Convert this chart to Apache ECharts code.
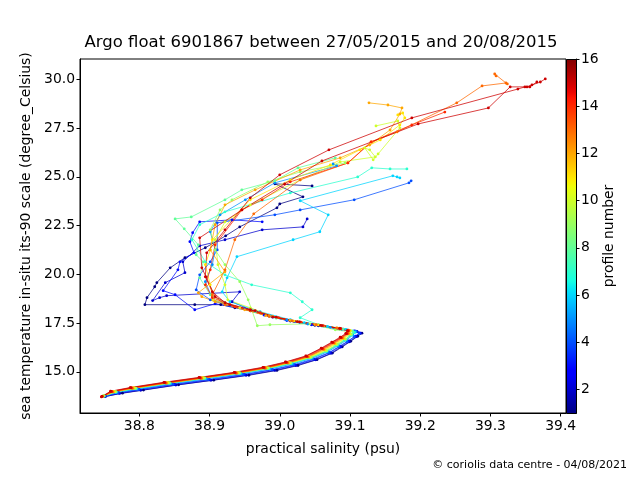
<!DOCTYPE html>
<html><head><meta charset="utf-8">
<script src="https://cdn.jsdelivr.net/npm/echarts@6/dist/echarts.min.js"></script>
<style>html,body{margin:0;padding:0;background:#fff}#c{width:640px;height:480px}</style>
</head><body><div id="c"></div>
<script>
const titleText = 'Argo float 6901867 between 27/05/2015 and 20/08/2015';
const xName = 'practical salinity (psu)';
const yName = 'sea temperature in-situ its-90 scale (degree_Celsius)';
const cbName = 'profile number';
const credit = '\u00a9 coriolis data centre - 04/08/2021';
const xTicks = [38.8, 38.9, 39.0, 39.1, 39.2, 39.3, 39.4];
const yTicks = [15, 17.5, 20, 22.5, 25, 27.5, 30];
const cbTicks = [2, 4, 6, 8, 10, 12, 14, 16];
const profileNumbers = [1,2,3,4,5,6,7,8,9,10,11,12,13,14,15,15];

const profile1 = [[39.046,24.53],[38.993,24.64],[39.033,23.97],[39.000,23.61],[38.996,23.41],[38.943,22.43],[38.923,21.97],[38.894,21.36],[38.865,20.85],[38.844,20.33],[38.825,19.57],[38.822,19.36],[38.811,18.80],[38.808,18.44],[38.879,18.44],[38.916,18.44],[38.936,18.28],[38.958,18.13],[38.985,17.85],[39.015,17.60],[39.050,17.38],[39.085,17.20],[39.108,17.08],[39.117,16.98],[39.111,16.82],[39.101,16.56],[39.089,16.28],[39.075,15.96],[39.053,15.62],[39.026,15.32],[38.996,15.07],[38.956,14.82],[38.906,14.57],[38.856,14.33],[38.806,14.06],[38.776,13.90],[38.750,13.72]];
const profile2 = [[39.039,22.84],[39.033,22.43],[38.975,22.28],[38.922,21.77],[38.886,21.46],[38.862,20.64],[38.865,20.08],[38.837,19.57],[38.819,18.65],[38.829,18.80],[38.839,18.90],[38.943,19.10],[38.932,18.59],[38.958,18.18],[38.990,17.80],[39.020,17.58],[39.055,17.36],[39.088,17.19],[39.110,17.07],[39.115,16.97],[39.109,16.80],[39.099,16.54],[39.087,16.27],[39.073,15.95],[39.051,15.61],[39.023,15.32],[38.993,15.07],[38.952,14.82],[38.902,14.56],[38.852,14.32],[38.802,14.05],[38.772,13.89],[38.752,13.73]];
const profile3 = [[38.975,22.69],[38.932,22.79],[38.886,22.69],[38.876,22.13],[38.872,21.67],[38.878,21.10],[38.858,20.64],[38.855,20.23],[38.834,19.16],[38.851,18.95],[38.879,18.18],[38.908,18.49],[38.950,18.23],[38.978,17.90],[39.010,17.63],[39.045,17.41],[39.082,17.22],[39.106,17.09],[39.114,16.99],[39.108,16.83],[39.098,16.58],[39.086,16.30],[39.071,15.98],[39.049,15.64],[39.022,15.35],[38.990,15.10],[38.950,14.85],[38.900,14.59],[38.850,14.35],[38.800,14.08],[38.771,13.91],[38.749,13.74]];
const profile4 = [[39.187,24.79],[39.184,24.69],[39.106,23.82],[39.029,23.30],[38.993,23.05],[38.911,22.64],[38.911,21.25],[38.901,20.64],[38.886,19.97],[38.881,19.20],[38.901,18.69],[38.929,18.38],[38.965,18.08],[38.995,17.78],[39.028,17.54],[39.060,17.35],[39.090,17.19],[39.109,17.07],[39.113,16.96],[39.106,16.80],[39.096,16.55],[39.084,16.29],[39.070,15.98],[39.047,15.65],[39.020,15.36],[38.989,15.11],[38.948,14.86],[38.898,14.60],[38.848,14.36],[38.799,14.09],[38.770,13.93],[38.751,13.74]];
const profile5 = [[39.076,25.66],[39.081,25.56],[38.993,24.69],[38.951,23.82],[38.915,23.05],[38.901,22.18],[38.908,21.25],[38.904,20.49],[38.894,19.62],[38.905,18.69],[38.943,18.28],[38.986,17.87],[39.010,17.66],[39.040,17.45],[39.072,17.28],[39.096,17.15],[39.108,17.04],[39.104,16.88],[39.095,16.62],[39.083,16.34],[39.068,16.02],[39.046,15.69],[39.018,15.40],[38.986,15.14],[38.945,14.89],[38.895,14.63],[38.845,14.38],[38.797,14.11],[38.768,13.94],[38.750,13.75]];
const profile6 = [[39.171,24.94],[39.167,24.99],[39.161,25.05],[39.029,23.77],[39.069,23.05],[39.057,22.18],[39.019,21.77],[38.939,20.90],[38.925,19.82],[38.918,19.10],[38.929,18.59],[38.972,18.08],[39.015,17.67],[39.035,17.52],[39.068,17.32],[39.094,17.17],[39.107,17.05],[39.103,16.89],[39.094,16.64],[39.082,16.36],[39.067,16.04],[39.045,15.71],[39.017,15.42],[38.985,15.16],[38.944,14.91],[38.894,14.65],[38.844,14.40],[38.796,14.13],[38.767,13.95],[38.749,13.75]];
const profile7 = [[39.181,25.40],[39.157,25.40],[39.131,25.46],[39.111,24.99],[39.015,24.17],[38.922,23.20],[38.886,22.54],[38.875,21.77],[38.894,20.64],[38.922,19.97],[38.960,19.46],[39.015,19.05],[39.032,18.59],[39.046,18.18],[39.029,17.77],[39.055,17.42],[39.085,17.24],[39.103,17.10],[39.106,17.00],[39.100,16.85],[39.092,16.62],[39.080,16.35],[39.066,16.05],[39.044,15.72],[39.016,15.43],[38.984,15.17],[38.943,14.92],[38.893,14.66],[38.843,14.41],[38.795,14.14],[38.766,13.96],[38.748,13.75]];
const profile8 = [[39.079,25.97],[39.026,25.46],[38.993,24.79],[38.946,24.33],[38.922,23.82],[38.874,22.94],[38.851,22.84],[38.864,22.33],[38.884,21.51],[38.881,21.00],[38.891,20.64],[38.886,19.82],[38.901,18.95],[38.922,18.54],[38.965,18.08],[38.995,17.75],[39.030,17.52],[39.062,17.34],[39.090,17.19],[39.104,17.07],[39.102,16.90],[39.093,16.65],[39.081,16.38],[39.066,16.06],[39.044,15.73],[39.015,15.44],[38.983,15.18],[38.942,14.93],[38.892,14.67],[38.842,14.42],[38.794,14.15],[38.766,13.97],[38.749,13.76]];
const profile9 = [[39.093,25.71],[39.029,25.25],[38.983,24.74],[38.932,23.82],[38.915,23.30],[38.901,22.28],[38.908,21.25],[38.922,20.49],[38.943,19.62],[38.955,18.69],[38.968,17.36],[38.986,17.41],[39.043,17.46],[39.079,17.15],[39.100,17.05],[39.102,16.92],[39.094,16.67],[39.082,16.40],[39.067,16.08],[39.045,15.75],[39.016,15.46],[38.984,15.20],[38.943,14.95],[38.893,14.69],[38.843,14.44],[38.795,14.16],[38.767,13.98],[38.750,13.76]];
const profile10 = [[39.137,27.61],[39.168,27.86],[39.171,27.51],[39.140,26.17],[39.133,25.87],[39.121,26.48],[39.128,26.38],[39.136,26.02],[39.086,25.76],[39.029,24.84],[38.958,23.56],[38.922,22.69],[38.908,21.77],[38.912,20.49],[38.922,19.46],[38.926,18.69],[38.958,18.28],[38.990,17.84],[39.025,17.58],[39.058,17.38],[39.086,17.22],[39.101,17.10],[39.100,16.93],[39.092,16.69],[39.080,16.42],[39.065,16.10],[39.043,15.75],[39.014,15.45],[38.982,15.19],[38.941,14.94],[38.891,14.68],[38.841,14.43],[38.793,14.16],[38.765,13.98],[38.749,13.76]];
const profile11 = [[39.168,28.17],[39.175,28.27],[39.178,28.02],[39.171,27.66],[39.143,26.89],[39.114,26.38],[39.072,25.61],[39.015,24.84],[38.958,23.82],[38.904,21.77],[38.901,21.25],[38.894,20.49],[38.901,19.46],[38.905,18.69],[38.943,18.28],[38.985,17.86],[39.020,17.60],[39.055,17.40],[39.084,17.23],[39.100,17.11],[39.099,16.95],[39.091,16.71],[39.079,16.44],[39.064,16.12],[39.042,15.77],[39.013,15.47],[38.981,15.21],[38.940,14.96],[38.890,14.70],[38.840,14.45],[38.792,14.18],[38.764,13.99],[38.748,13.75]];
const profile12 = [[39.127,28.79],[39.154,28.68],[39.174,28.53],[39.171,28.22],[39.157,27.40],[39.128,26.63],[39.086,25.97],[39.029,25.35],[38.965,24.33],[38.922,23.56],[38.908,22.54],[38.901,21.25],[38.922,20.13],[38.884,19.05],[38.889,18.85],[38.908,18.59],[38.950,18.18],[38.980,17.88],[39.015,17.63],[39.050,17.42],[39.082,17.24],[39.099,17.12],[39.098,16.96],[39.090,16.72],[39.078,16.46],[39.063,16.14],[39.041,15.76],[39.012,15.45],[38.980,15.18],[38.939,14.92],[38.889,14.66],[38.839,14.41],[38.791,14.15],[38.763,13.96],[38.748,13.74]];
const profile13 = [[39.306,30.27],[39.308,30.17],[39.322,29.81],[39.324,29.76],[39.288,29.66],[39.252,28.79],[39.167,27.30],[39.131,26.79],[39.097,25.71],[39.029,24.84],[38.963,23.10],[38.936,21.77],[38.922,20.23],[38.904,18.95],[38.922,18.44],[38.958,18.13],[38.985,17.84],[39.018,17.61],[39.052,17.41],[39.081,17.25],[39.098,17.13],[39.097,16.97],[39.089,16.74],[39.077,16.48],[39.062,16.16],[39.040,15.77],[39.011,15.46],[38.979,15.19],[38.938,14.93],[38.888,14.67],[38.838,14.42],[38.790,14.16],[38.762,13.97],[38.747,13.74]];
const profile14 = [[39.235,28.32],[39.188,27.66],[39.130,26.79],[39.097,25.71],[39.015,24.74],[38.975,23.82],[38.946,23.30],[38.908,21.51],[38.901,20.23],[38.894,19.46],[38.904,18.80],[38.936,18.33],[38.972,18.03],[38.998,17.78],[39.030,17.55],[39.062,17.36],[39.087,17.21],[39.098,17.09],[39.096,16.95],[39.088,16.74],[39.076,16.49],[39.061,16.18],[39.039,15.78],[39.010,15.47],[38.978,15.20],[38.937,14.94],[38.887,14.68],[38.837,14.43],[38.789,14.17],[38.761,13.98],[38.747,13.73]];
const profile15 = [[39.366,29.86],[39.356,29.61],[39.349,29.61],[39.339,29.50],[39.188,28.02],[39.070,26.38],[39.000,25.10],[38.958,23.92],[38.922,22.28],[38.896,21.10],[38.894,19.87],[38.904,19.10],[38.922,18.54],[38.958,18.18],[38.990,17.81],[39.025,17.57],[39.058,17.38],[39.085,17.22],[39.097,17.10],[39.095,16.96],[39.087,16.76],[39.075,16.51],[39.060,16.20],[39.038,15.80],[39.009,15.49],[38.977,15.22],[38.936,14.96],[38.886,14.70],[38.836,14.45],[38.788,14.18],[38.760,13.99],[38.747,13.74]];
const profile16 = [[39.378,30.02],[39.371,29.86],[39.359,29.71],[39.352,29.61],[39.328,29.61],[39.297,28.53],[39.197,27.71],[39.060,25.81],[39.007,24.64],[38.946,23.30],[38.886,21.87],[38.889,20.33],[38.895,19.87],[38.908,18.85],[38.929,18.44],[38.965,18.13],[38.995,17.80],[39.028,17.56],[39.060,17.37],[39.086,17.22],[39.096,17.11],[39.094,16.97],[39.086,16.77],[39.074,16.52],[39.059,16.21],[39.037,15.81],[39.008,15.50],[38.976,15.23],[38.935,14.97],[38.885,14.71],[38.835,14.46],[38.787,14.19],[38.759,14.00],[38.746,13.71]];

const profiles = [profile1,profile2,profile3,profile4,profile5,profile6,profile7,profile8,profile9,profile10,profile11,profile12,profile13,profile14,profile15,profile16];

function interp(t, pts){
  for (let i=1;i<pts.length;i++){
    if (t <= pts[i][0]) {
      const a = pts[i-1], b = pts[i];
      const f = (t - a[0]) / (b[0] - a[0] || 1);
      return a[1] + f * (b[1] - a[1]);
    }
  }
  return pts[pts.length-1][1];
}
function jet(t){
  t = Math.max(0, Math.min(1, t));
  const r = interp(t, [[0,0],[0.35,0],[0.66,1],[0.89,1],[1,0.5]]);
  const g = interp(t, [[0,0],[0.125,0],[0.375,1],[0.64,1],[0.91,0],[1,0]]);
  const b = interp(t, [[0,0.5],[0.11,1],[0.34,1],[0.65,0],[1,0]]);
  return 'rgb(' + Math.round(r*255) + ',' + Math.round(g*255) + ',' + Math.round(b*255) + ')';
}
const cMin = 1, cMax = 16;
const colorOf = p => jet((p - cMin) / (cMax - cMin));

const stops = [];
for (let i = 0; i <= 64; i++) stops.push({offset: i/64, color: jet(i/64)});

const FONT = 'DejaVu Sans';
const chart = echarts.init(document.getElementById('c'), null, {renderer: 'canvas'});

const series = profiles.map((d, i) => ({
  type: 'line',
  name: 'profile ' + (i + 1),
  xAxisIndex: 0, yAxisIndex: 0,
  data: d,
  symbol: 'circle',
  symbolSize: 2.8,
  showSymbol: true,
  showAllSymbol: true,
  lineStyle: {width: 0.75, color: colorOf(profileNumbers[i])},
  itemStyle: {color: colorOf(profileNumbers[i]), borderWidth: 0},
  emphasis: {disabled: true},
  silent: true,
  animation: false
}));

const option = {
  animation: false,
  backgroundColor: '#fff',
  title: {
    text: titleText, left: 321, top: 34, textAlign: 'center', padding: 0,
    textStyle: {fontFamily: FONT, fontSize: 16.5, fontWeight: 'normal', color: '#000'}
  },
  grid: [
    {left: 80, top: 59, width: 486, height: 354, show: true, borderColor: '#000', borderWidth: 1, backgroundColor: 'rgba(0,0,0,0)'},
    {left: 566, top: 59, width: 10, height: 354, show: false}
  ],
  xAxis: [
    {type: 'value', gridIndex: 0, min: 38.7156, max: 39.4075,
     name: xName, nameLocation: 'middle', nameGap: 29,
     nameTextStyle: {fontFamily: FONT, fontSize: 13.9, color: '#000'},
     axisLine: {show: true, onZero: false, lineStyle: {color: '#000', width: 1}},
     axisTick: {show: true, length: 3.5, customValues: xTicks, lineStyle: {color: '#000', width: 1}},
     axisLabel: {customValues: xTicks, formatter: v => Number(v).toFixed(1), fontFamily: FONT, fontSize: 13.9, color: '#000', margin: 6},
     splitLine: {show: false}},
    {type: 'value', gridIndex: 1, min: 0, max: 1, show: false}
  ],
  yAxis: [
    {type: 'value', gridIndex: 0, min: 12.885, max: 31.04,
     name: yName, nameLocation: 'middle', nameGap: 45, nameRotate: 90,
     nameTextStyle: {fontFamily: FONT, fontSize: 13.9, color: '#000'},
     axisLine: {show: true, onZero: false, lineStyle: {color: '#000', width: 1}},
     axisTick: {show: true, length: 3.5, customValues: yTicks, lineStyle: {color: '#000', width: 1}},
     axisLabel: {customValues: yTicks, formatter: v => Number(v).toFixed(1), fontFamily: FONT, fontSize: 13.9, color: '#000', margin: 5},
     splitLine: {show: false}},
    {type: 'value', gridIndex: 1, min: cMin, max: cMax, position: 'right',
     name: cbName, nameLocation: 'middle', nameGap: 25, nameRotate: 90,
     nameTextStyle: {fontFamily: FONT, fontSize: 13.9, color: '#000'},
     axisLine: {show: true, onZero: false, lineStyle: {color: '#000', width: 1}},
     axisTick: {show: true, length: 3.5, customValues: cbTicks, lineStyle: {color: '#000', width: 1}},
     axisLabel: {customValues: cbTicks, formatter: v => String(v), fontFamily: FONT, fontSize: 13.9, color: '#000', margin: 5},
     splitLine: {show: false}}
  ],
  graphic: [
    {type: 'rect', left: 566, top: 59, shape: {x: 0, y: 0, width: 10, height: 354}, z: 50,
     style: {fill: {type: 'linear', x: 0, y: 1, x2: 0, y2: 0, colorStops: stops}, stroke: '#000', lineWidth: 1}},
    {type: 'text', right: 13, top: 460, z: 50,
     style: {text: credit, font: '11px "DejaVu Sans"', fill: '#000'}}
  ],
  series: series
};
chart.setOption(option);
</script></body></html>
